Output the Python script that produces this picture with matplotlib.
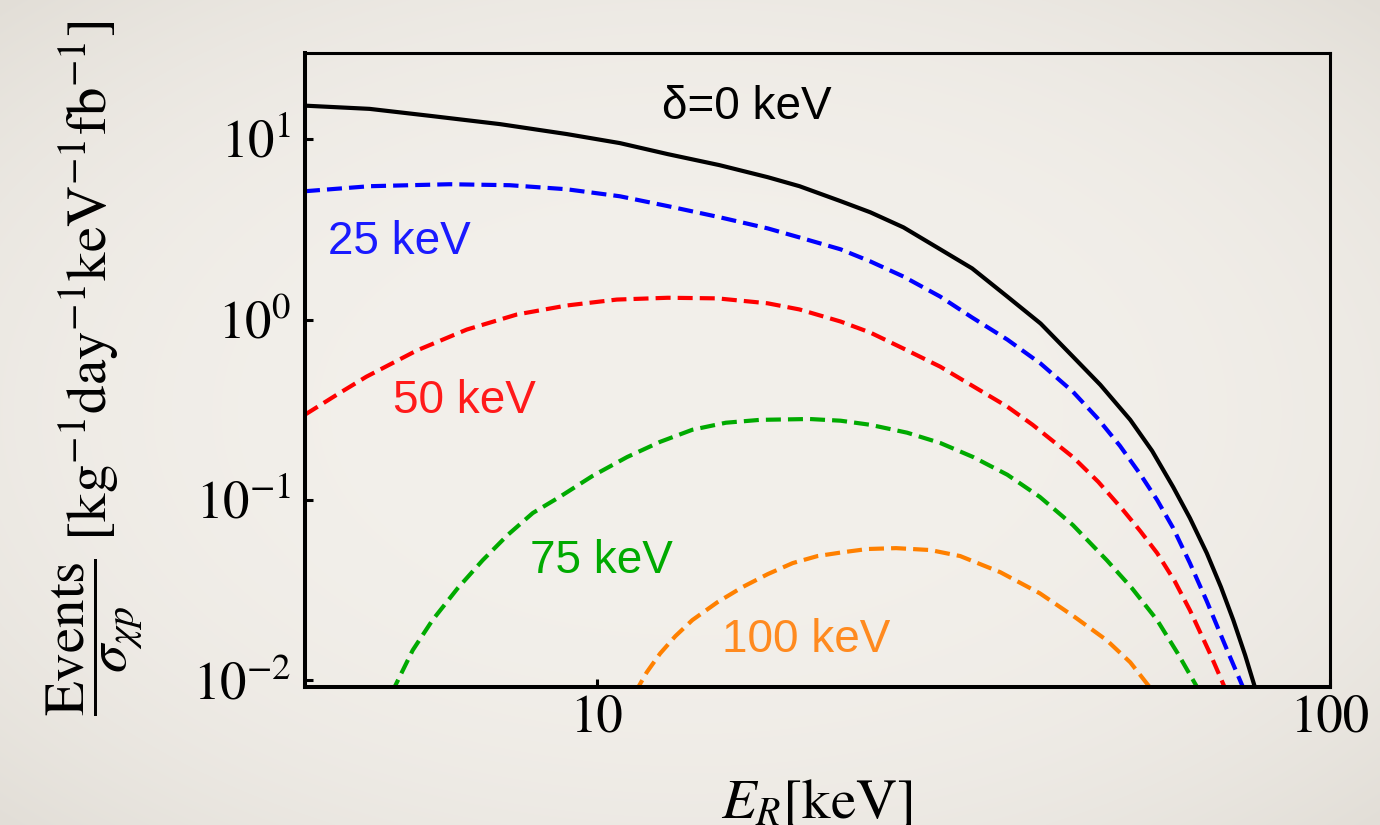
import matplotlib

matplotlib.use("Agg")
import matplotlib.pyplot as plt
import numpy as np
from matplotlib.ticker import FixedLocator, NullLocator

plt.rcParams["mathtext.fontset"] = "stix"
plt.rcParams["font.family"] = ["STIXGeneral", "DejaVu Serif"]

# Espectros (E_R en keV, eventos por sigma)
e_d0 = [4.02, 4.90, 5.97, 7.38, 9.1, 10.75, 12.5, 14.7, 17.1, 18.9, 21.5, 23.6, 26.2, 29.4, 32.5,
        36.3, 40.3, 44.6, 48.6, 53.4, 57.2, 61.1, 64.4, 67.9, 71.0, 73.8, 76.6, 79.0, 79.3]
r_d0 = [15.3, 14.7, 13.4, 12.1, 10.66, 9.5, 8.25, 7.17, 6.15, 5.48, 4.53, 3.93, 3.24, 2.45, 1.92,
        1.34, 0.95, 0.623, 0.435, 0.278, 0.187, 0.118, 0.0794, 0.0508, 0.0329, 0.0216, 0.0138, 0.00915, 0.008]

e_d25 = [4.0, 4.90, 6.30, 7.61, 9.1, 10.75, 12.5, 14.7, 17.1, 18.9, 21.5, 23.6, 26.2, 29.4, 32.5, 36.3,
         40.3, 44.6, 48.1, 51.7, 55.1, 58.1, 61.1, 64.4, 67.9, 72.4, 76.1, 76.4]
r_d25 = [5.14, 5.48, 5.62, 5.55, 5.27, 4.82, 4.25, 3.69, 3.20, 2.85, 2.45, 2.10, 1.73, 1.34, 1.026, 0.774,
         0.570, 0.398, 0.286, 0.1995, 0.139, 0.1, 0.0699, 0.0447, 0.0275, 0.0147, 0.00915, 0.008]

e_d50 = [4.0, 4.42, 4.85, 5.68, 6.65, 7.78, 9.1, 10.65, 12.5, 14.6, 17.1, 18.9, 21.5, 23.6, 26.2, 29.4,
         32.5, 36.3, 39.3, 44.6, 48.3, 52.2, 55.1, 58.1, 61.4, 64.4, 68.6, 72.4]
r_d50 = [0.297, 0.383, 0.482, 0.673, 0.88, 1.066, 1.196, 1.29, 1.32, 1.31, 1.23, 1.137, 0.975, 0.847, 0.69, 0.548,
         0.43, 0.329, 0.261, 0.173, 0.126, 0.088, 0.0673, 0.0508, 0.0355, 0.0245, 0.0141, 0.0085]

e_d75 = [5.25, 5.61, 5.97, 6.46, 6.99, 7.56, 8.18, 8.9, 9.87, 11.0, 12.2, 13.5, 15.0, 16.7, 19.5, 21.5,
         23.6, 26.5, 29.4, 32.6, 36.3, 40.2, 44.6, 49.6, 53.7, 58.1, 62.0, 65.9, 66.3]
r_d75 = [0.0085, 0.0147, 0.0216, 0.0324, 0.0464, 0.064, 0.0847, 0.104, 0.136, 0.173, 0.21, 0.245, 0.268, 0.278, 0.281, 0.275,
         0.261, 0.236, 0.207, 0.173, 0.138, 0.104, 0.0726, 0.0464, 0.0324, 0.0216, 0.0141, 0.00915, 0.008]

e_d100 = [11.27, 11.7, 12.2, 12.8, 13.5, 14.6, 15.8, 17.1, 18.5, 20.0, 21.7, 23.4, 25.6, 28.5, 31.3,
          35.5, 40.2, 44.9, 49.6, 53.4, 56.8, 57.2]
r_d100 = [0.0085, 0.0111, 0.0141, 0.0176, 0.0216, 0.0271, 0.0329, 0.0388, 0.0447, 0.0489, 0.0514, 0.0535, 0.0541, 0.0528, 0.0489,
          0.0398, 0.0304, 0.0224, 0.0167, 0.0126, 0.00915, 0.008]

DISCONTINUA = (0, (3.6, 1.7))
curvas = [
    (e_d0, r_d0, "black", "-"),
    (e_d25, r_d25, "#0000ff", DISCONTINUA),
    (e_d50, r_d50, "#ff0000", DISCONTINUA),
    (e_d75, r_d75, "#00aa00", DISCONTINUA),
    (e_d100, r_d100, "#ff8000", DISCONTINUA),
]

# etiquetas de cada curva: texto, x, y, color
etiquetas = [
    ("δ=0 keV", 16.0, 15.1, "black"),
    ("25 keV", 5.38, 2.68, "#1a1aff"),
    ("50 keV", 6.61, 0.355, "#ff1a1a"),
    ("75 keV", 10.16, 0.0458, "#00aa00"),
    ("100 keV", 19.3, 0.0167, "#ff8a1f"),
]

FONDO = "#f1eee9"

fig = plt.figure(figsize=(13.8, 8.25), dpi=100, facecolor=FONDO)

# vineta suave del papel de fondo
h, w = 825, 1380
yy, xx = np.mgrid[0:h, 0:w]
rr = ((xx - w / 2) / (w / 2)) ** 2 + ((yy - h / 2) / (h / 2)) ** 2
base = np.array([243, 240, 235]) / 255.0
osc = np.array([226, 222, 215]) / 255.0
t = np.clip(rr / 2.0, 0, 1)[..., None] ** 1.5
img = base * (1 - t) + osc * t
fig.figimage(img, xo=0, yo=0, origin="upper", zorder=-10)

ax = fig.add_axes([0.221, 0.1673, 0.7428, 0.7685])
ax.set_facecolor("none")
ax.set_zorder(5)
ax.set_xscale("log")
ax.set_yscale("log")

for e, r, color, estilo in curvas:
    ax.plot(e, r, color=color, linestyle=estilo, lw=3.0, solid_capstyle="butt",
            solid_joinstyle="round")

for texto, x, y, color in etiquetas:
    ax.text(x, y, texto, color=color, fontsize=33, ha="center", va="center",
            family=["Liberation Sans", "DejaVu Sans"])

ax.set_xlim(4, 100)
ax.set_ylim(0.0092, 30)

ax.xaxis.set_major_locator(FixedLocator([10, 100]))
ax.set_xticklabels(["10", "100"])
ax.xaxis.set_minor_locator(NullLocator())
ax.yaxis.set_major_locator(FixedLocator([0.01, 0.1, 1, 10]))
ax.yaxis.set_minor_locator(NullLocator())

ax.tick_params(axis="both", which="major", direction="in", length=6, width=2.2,
               labelsize=38, top=False, right=False)
ax.tick_params(axis="x", pad=5)
ax.tick_params(axis="y", pad=10)

for lado in ["left", "bottom"]:
    ax.spines[lado].set_linewidth(2.9)
for lado in ["top", "right"]:
    ax.spines[lado].set_linewidth(2.2)

fig.text(0.068, 0.554,
         r"$\dfrac{\mathrm{Events}}{\sigma_{\chi p}}\ [\mathrm{kg}^{-1}\mathrm{day}^{-1}\mathrm{keV}^{-1}\mathrm{fb}^{-1}]$",
         rotation=90, ha="center", va="center", fontsize=41, zorder=6)
fig.text(0.592, 0.0085, r"$E_R[\mathrm{keV}]$", ha="center", va="baseline", fontsize=41, zorder=6)

fig.savefig("out.png", dpi=100, facecolor=fig.get_facecolor())
